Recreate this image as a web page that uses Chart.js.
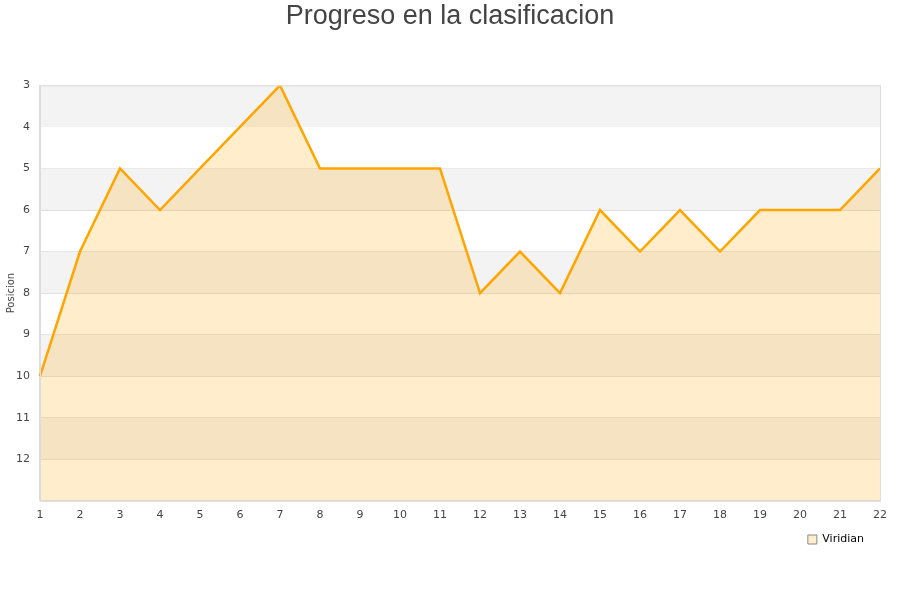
<!DOCTYPE html>
<html>
<head>
<meta charset="utf-8">
<script src="https://cdn.jsdelivr.net/npm/chart.js@4"></script>
<style>
  body { margin: 0; background: #fff; }
  #wrap { width: 900px; height: 600px; }
</style>
</head>
<body>
<div id="wrap"><canvas id="chart" width="900" height="600"></canvas></div>
<script>
// Jornadas y posicion en la tabla
const jornadas = ['1','2','3','4','5','6','7','8','9','10','11','12','13','14','15','16','17','18','19','20','21','22'];
const posicionViridian = [10, 7, 5, 6, 5, 4, 3, 5, 5, 5, 5, 8, 7, 8, 6, 7, 6, 7, 6, 6, 6, 5];
const posMin = 3;
const posMax = 13;

// franjas grises alternas + marco del area
const bandsPlugin = {
    id: 'bands',
    afterLayout(chart) {
        // centrar el titulo en todo el lienzo y separar la leyenda del borde
        if (chart.titleBlock) {
            chart.titleBlock.left = 0;
            chart.titleBlock.right = chart.width;
        }
        if (chart.legend) chart.legend.right -= 12;
    },
    beforeDatasetsDraw(chart) {
        const { ctx, chartArea, scales } = chart;
        const y = scales.y;
        ctx.save();
        ctx.fillStyle = '#f3f3f3';
        for (let v = posMin; v < posMax; v += 2) {
            const top = y.getPixelForValue(v);
            const bottom = y.getPixelForValue(v + 1);
            ctx.fillRect(chartArea.left, top, chartArea.right - chartArea.left, bottom - top);
        }
        ctx.restore();
    },
    afterDraw(chart) {
        const { ctx, chartArea } = chart;
        ctx.save();
        ctx.strokeStyle = '#dddddd';
        ctx.lineWidth = 1;
        ctx.strokeRect(chartArea.left + 0.5, chartArea.top + 0.5, chartArea.right - chartArea.left, chartArea.bottom - chartArea.top);
        ctx.restore();
    }
};

new Chart(document.getElementById('chart'), {
    type: 'line',
    data: {
        labels: jornadas,
        datasets: [{
            label: 'Viridian',
            data: posicionViridian,
            borderColor: '#ffa500',
            backgroundColor: 'rgba(255,165,0,0.2)',
            borderWidth: 2.5,
            pointRadius: 0,
            tension: 0,
            fill: { value: posMax }
        }]
    },
    options: {
        responsive: false,
        animation: false,
        layout: { padding: { left: 1, right: 20, top: 0, bottom: 45 } },
        plugins: {
            title: {
                display: true,
                text: 'Progreso en la clasificacion',
                color: '#444',
                font: { family: "'Liberation Sans', Arial, sans-serif", size: 27, weight: 'normal' },
                padding: { top: 0, bottom: 53 }
            },
            legend: {
                position: 'bottom',
                align: 'end',
                labels: {
                    boxWidth: 9,
                    boxHeight: 9,
                    color: '#000',
                    padding: 4,
                    font: { family: "'DejaVu Sans', sans-serif", size: 11 },
                    generateLabels() {
                        return [{
                            text: 'Viridian',
                            fillStyle: 'rgba(255,165,0,0.2)',
                            strokeStyle: '#888',
                            lineWidth: 1,
                            hidden: false,
                            datasetIndex: 0
                        }];
                    }
                }
            },
            tooltip: { enabled: false }
        },
        scales: {
            x: {
                grid: { display: false, drawTicks: false },
                border: { color: '#dddddd' },
                ticks: {
                    color: '#444',
                    maxRotation: 0,
                    autoSkip: false,
                    padding: 8,
                    font: { family: "'DejaVu Sans', sans-serif", size: 11 }
                }
            },
            y: {
                reverse: true,
                min: posMin,
                max: posMax,
                grid: { color: '#dddddd', drawTicks: false },
                border: { color: '#dddddd' },
                title: {
                    display: true,
                    text: 'Posicion',
                    color: '#444',
                    padding: { top: 4, bottom: -11 },
                    font: { family: "'DejaVu Sans', sans-serif", size: 10 }
                },
                ticks: {
                    stepSize: 1,
                    color: '#444',
                    padding: 10,
                    font: { family: "'DejaVu Sans', sans-serif", size: 11 },
                    callback: (v) => (v === posMax ? '' : v)
                }
            }
        }
    },
    plugins: [bandsPlugin]
});
</script>
</body>
</html>
